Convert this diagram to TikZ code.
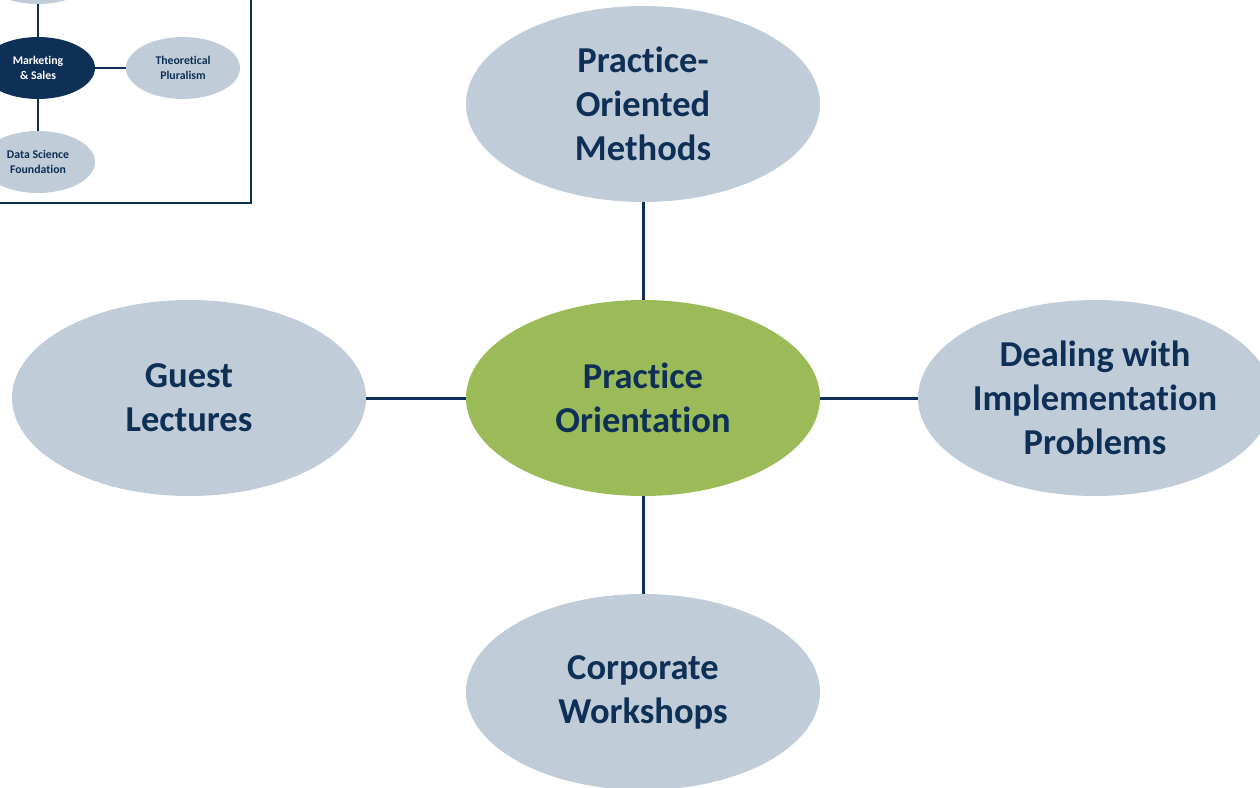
\documentclass[tikz,border=0pt]{standalone}
\usepackage{fontspec}
\setmainfont{Carlito}[RawFeature=-liga]
\usetikzlibrary{shapes.geometric}
\definecolor{NavyText}{RGB}{14,48,86}
\definecolor{TopicGray}{RGB}{192,204,215}
\definecolor{HubGreen}{RGB}{155,187,89}

\begin{document}
\begin{tikzpicture}
                        [
                            x=1pt, y=-1pt,
                            topic style/.style={ellipse, fill=TopicGray, minimum width=354pt, minimum height=196pt, inner sep=0pt, align=center, text=NavyText, font=\fontsize{36.5}{44}\selectfont\bfseries},
                            hub style/.style={topic style, fill=HubGreen},
                            mini style/.style={ellipse, fill=TopicGray, minimum width=114pt, minimum height=62pt, inner sep=0pt, align=center, text=NavyText, font=\fontsize{11.8}{14.5}\selectfont\bfseries},
                            link style/.style={draw=NavyText, line width=3pt}
                        ]
                        \useasboundingbox (0,0) rectangle (1260,787);
                        \clip (0,0) rectangle (1260,787);
                        % small map in the corner
                        \draw[NavyText, line width=2pt] (-10,-10) rectangle (251,203);
                        \node[mini style] (prev) at (38,-27) {};
                        \node[mini style, fill=NavyText, text=white] (mks) at (38,68) {Marketing\\\& Sales};
                        \node[mini style] (plural) at (183,68) {Theoretical\\Pluralism};
                        \node[mini style] (dsf) at (38,162) {Data Science\\Foundation};
                        \foreach \n in {prev,plural,dsf} \draw[link style, line width=1.5pt] (mks) -- (\n);
                        % main map
                        \node[hub style] (hub) at (643,398) {Practice\\Orientation};
                        \node[topic style] (meth) at (643,104) {Practice-\\Oriented\\Methods};
                        \node[topic style] (guest) at (189,398) {Guest\\Lectures};
                        \node[topic style] (impl) at (1095,398) {Dealing with\\Implementation\\Problems};
                        \node[topic style] (work) at (643,692) {Corporate\\Workshops};
                        \foreach \n in {meth,guest,impl,work} \draw[link style] (hub) -- (\n);
                        \end{tikzpicture}
\end{document}
